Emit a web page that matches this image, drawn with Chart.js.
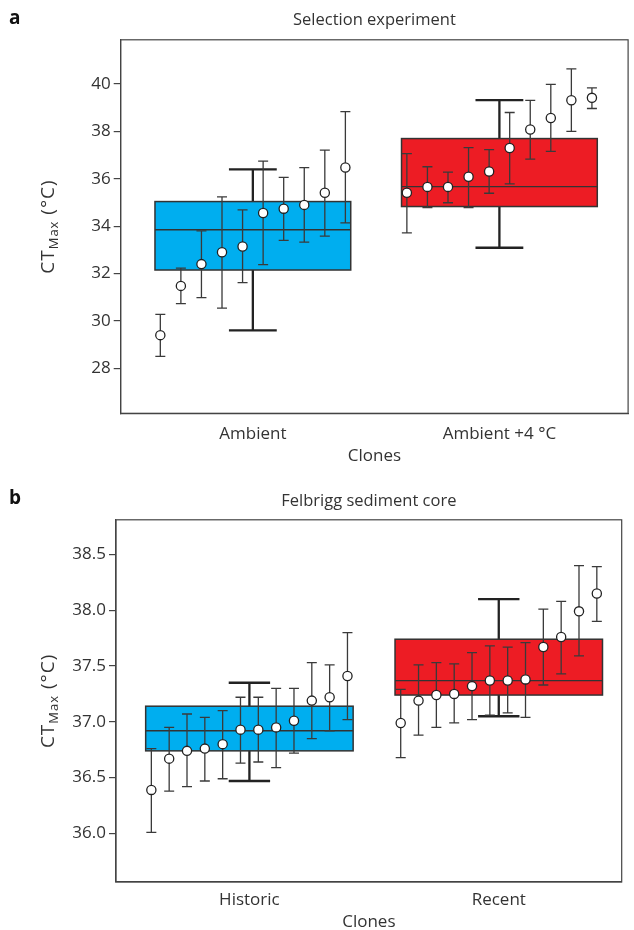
<!DOCTYPE html>
<html>
<head>
<meta charset="utf-8">
<script src="https://cdn.jsdelivr.net/npm/chart.js@4.4.0/dist/chart.umd.min.js"></script>
<style>
  html, body { margin: 0; padding: 0; background: #fff; overflow: hidden; }
  .panel { position: absolute; left: 0; width: 634px; }
  #wrapA { top: 0; height: 478px; }
  #wrapB { top: 478px; height: 470px; }
</style>
</head>
<body>
<div class="panel" id="wrapA"><canvas id="chartA" width="634" height="478"></canvas></div>
<div class="panel" id="wrapB"><canvas id="chartB" width="634" height="470"></canvas></div>
<script>
// Panel a - Selection experiment
const groupsA = ["Ambient", "Ambient +4 °C"];
const meanAmbient = [29.4, 31.48, 32.4, 32.9, 33.14, 34.56, 34.74, 34.9, 35.41, 36.48];
const lowAmbient = [28.5, 30.73, 30.98, 30.54, 31.62, 32.38, 33.4, 33.33, 33.58, 34.14];
const highAmbient = [30.28, 32.23, 33.8, 35.24, 34.69, 36.75, 36.06, 36.47, 37.21, 38.84];
const meanWarm = [35.41, 35.66, 35.66, 36.09, 36.31, 37.3, 38.08, 38.57, 39.32, 39.42];
const lowWarm = [33.72, 34.78, 34.99, 34.78, 35.39, 35.79, 36.83, 37.16, 38.0, 38.97];
const highWarm = [37.06, 36.51, 36.28, 37.32, 37.23, 38.8, 39.31, 39.99, 40.64, 39.84];
// box: whisker low, q1, median, q3, whisker high
const boxAmbient = [29.6, 32.15, 33.85, 35.04, 36.4];
const boxWarm = [33.09, 34.83, 35.67, 37.7, 39.32];
const ticksA = [28, 30, 32, 34, 36, 38, 40];

// Panel b - Felbrigg sediment core
const groupsB = ["Historic", "Recent"];
const meanHistoric = [36.39, 36.67, 36.74, 36.76, 36.8, 36.93, 36.93, 36.95, 37.01, 37.19, 37.22, 37.41];
const lowHistoric = [36.01, 36.38, 36.42, 36.47, 36.49, 36.63, 36.64, 36.59, 36.72, 36.85, 36.92, 37.02];
const highHistoric = [36.76, 36.95, 37.07, 37.04, 37.1, 37.22, 37.22, 37.3, 37.3, 37.53, 37.51, 37.8];
const meanRecent = [36.99, 37.19, 37.24, 37.25, 37.32, 37.37, 37.37, 37.38, 37.67, 37.76, 37.99, 38.15];
const lowRecent = [36.68, 36.88, 36.95, 36.99, 37.02, 37.06, 37.08, 37.04, 37.33, 37.43, 37.59, 37.9];
const highRecent = [37.29, 37.51, 37.53, 37.52, 37.62, 37.68, 37.67, 37.71, 38.01, 38.08, 38.4, 38.39];
const boxHistoric = [36.47, 36.74, 36.92, 37.14, 37.35];
const boxRecent = [37.05, 37.24, 37.37, 37.74, 38.1];
const ticksB = [36.0, 36.5, 37.0, 37.5, 38.0, 38.5];

const FONT = "'Open Sans', 'DejaVu Sans', sans-serif";
const TEXT = "#333";
const LINE = "#444";
const BLUE = "#00aeef";
const RED = "#ed1c24";

// x position of clone i inside group g
function cloneX(g, i, n, spacing) {
  return g + (i - (n - 1) / 2) * spacing;
}

// boxes, whiskers, error bars and the frame
const boxPlugin = {
  id: "boxes",
  beforeDatasetsDraw(chart) {
    const o = chart.options.plugins.boxes;
    const { ctx, chartArea } = chart;
    const x = chart.scales.x;
    const y = chart.scales.y;
    ctx.save();
    o.series.forEach((s, g) => {
      const [wLo, q1, med, q3, wHi] = s.box;
      const left = x.getPixelForValue(g - o.boxHalf);
      const right = x.getPixelForValue(g + o.boxHalf);
      const cx = x.getPixelForValue(g);
      const capL = x.getPixelForValue(g - o.capHalf);
      const capR = x.getPixelForValue(g + o.capHalf);

      // whiskers
      ctx.strokeStyle = "#222";
      ctx.lineWidth = 2.3;
      ctx.beginPath();
      ctx.moveTo(cx, y.getPixelForValue(wHi));
      ctx.lineTo(cx, y.getPixelForValue(wLo));
      ctx.moveTo(capL, y.getPixelForValue(wHi));
      ctx.lineTo(capR, y.getPixelForValue(wHi));
      ctx.moveTo(capL, y.getPixelForValue(wLo));
      ctx.lineTo(capR, y.getPixelForValue(wLo));
      ctx.stroke();

      // box
      const top = y.getPixelForValue(q3);
      const bottom = y.getPixelForValue(q1);
      ctx.fillStyle = s.color;
      ctx.fillRect(left, top, right - left, bottom - top);
      ctx.strokeStyle = "#333";
      ctx.lineWidth = 1.5;
      ctx.strokeRect(left, top, right - left, bottom - top);
      ctx.lineWidth = 1.3;
      ctx.beginPath();
      ctx.moveTo(left, y.getPixelForValue(med));
      ctx.lineTo(right, y.getPixelForValue(med));
      ctx.stroke();

      // error bars of the clones
      ctx.strokeStyle = "#3a3a3a";
      ctx.lineWidth = 1.3;
      const n = s.mean.length;
      for (let i = 0; i < n; i++) {
        const px = x.getPixelForValue(cloneX(g, i, n, o.spacing));
        const yLo = y.getPixelForValue(s.low[i]);
        const yHi = y.getPixelForValue(s.high[i]);
        ctx.beginPath();
        ctx.moveTo(px, yLo);
        ctx.lineTo(px, yHi);
        ctx.moveTo(px - 5, yLo);
        ctx.lineTo(px + 5, yLo);
        ctx.moveTo(px - 5, yHi);
        ctx.lineTo(px + 5, yHi);
        ctx.stroke();
      }
    });

    // frame
    ctx.strokeStyle = LINE;
    ctx.lineWidth = 1.2;
    ctx.strokeRect(chartArea.left, chartArea.top, chartArea.right - chartArea.left, chartArea.bottom - chartArea.top);
    ctx.restore();
  },
  afterDraw(chart) {
    const o = chart.options.plugins.boxes;
    const { ctx, chartArea } = chart;
    ctx.save();
    // panel letter
    ctx.font = "bold 19px " + FONT;
    ctx.textBaseline = "alphabetic";
    ctx.textAlign = "left";
    ctx.fillStyle = "#111";
    ctx.fillText(o.letter, 9, o.letterY);
    // y axis title with subscript
    ctx.fillStyle = TEXT;
    ctx.letterSpacing = "1px";
    const cy = (chartArea.top + chartArea.bottom) / 2;
    ctx.translate(47, cy);
    ctx.rotate(-Math.PI / 2);
    const big = "19px " + FONT;
    const small = "13px " + FONT;
    ctx.font = big;
    const w1 = ctx.measureText("CT").width;
    const w3 = ctx.measureText(" (°C)").width;
    ctx.font = small;
    const w2 = ctx.measureText("Max").width;
    let sx = -(w1 + w2 + w3) / 2;
    ctx.font = big;
    ctx.fillText("CT", sx, 7);
    sx += w1;
    ctx.font = small;
    ctx.fillText("Max", sx, 11);
    sx += w2;
    ctx.font = big;
    ctx.fillText(" (°C)", sx, 7);
    ctx.restore();
  }
};

function makePanel(id, p) {
  const datasets = p.series.map((s, g) => ({
    data: s.mean.map((v, i) => ({ x: cloneX(g, i, s.mean.length, p.spacing), y: v })),
    pointRadius: 4.6,
    pointBackgroundColor: "#fff",
    pointBorderColor: "#222",
    pointBorderWidth: 1.3,
    showLine: false
  }));

  new Chart(document.getElementById(id), {
    type: "scatter",
    data: { datasets },
    options: {
      responsive: false,
      animation: false,
      layout: { padding: { left: 0, right: p.padRight, top: 0, bottom: 0 } },
      plugins: {
        legend: { display: false },
        tooltip: { enabled: false },
        title: {
          display: true,
          text: p.title,
          fullSize: false,
          color: TEXT,
          font: { family: FONT, size: 16.5, weight: "normal" },
          padding: p.titlePad
        },
        boxes: {
          series: p.series,
          spacing: p.spacing,
          boxHalf: p.boxHalf,
          capHalf: p.capHalf,
          letter: p.letter,
          letterY: p.letterY
        }
      },
      scales: {
        x: {
          type: "linear",
          min: p.xMin,
          max: p.xMax,
          grid: { display: false },
          border: { display: true, color: LINE, width: 1.2 },
          afterBuildTicks: (axis) => { axis.ticks = p.groups.map((_, i) => ({ value: i })); },
          afterFit: (axis) => { axis.height = p.xAxisHeight; },
          ticks: {
            autoSkip: false,
            maxRotation: 0,
            padding: p.tickPad,
            color: TEXT,
            font: { family: FONT, size: 17 },
            callback: (v, i) => p.groups[i]
          },
          title: {
            display: true,
            text: "Clones",
            color: TEXT,
            font: { family: FONT, size: 17 },
            padding: { top: 0, bottom: p.clonesPad }
          }
        },
        y: {
          min: p.yMin,
          max: p.yMax,
          grid: { display: true, drawOnChartArea: false, drawTicks: true, tickLength: 7, color: LINE, lineWidth: 1.2 },
          border: { display: true, color: LINE, width: 1.2 },
          afterBuildTicks: (axis) => { axis.ticks = p.ticks.map((v) => ({ value: v })); },
          afterFit: (axis) => { axis.width = p.yAxisWidth; },
          ticks: {
            padding: 3,
            color: TEXT,
            font: { family: FONT, size: 17 },
            callback: (v) => v.toFixed(p.decimals)
          }
        }
      }
    },
    plugins: [boxPlugin]
  });
}

makePanel("chartA", {
  letter: "a",
  letterY: 24,
  title: "Selection experiment",
  groups: groupsA,
  series: [
    { mean: meanAmbient, low: lowAmbient, high: highAmbient, box: boxAmbient, color: BLUE },
    { mean: meanWarm, low: lowWarm, high: highWarm, box: boxWarm, color: RED }
  ],
  ticks: ticksA,
  decimals: 0,
  yMin: 26.1,
  yMax: 41.87,
  xMin: -0.536,
  xMax: 1.522,
  spacing: 0.0834,
  boxHalf: 0.397,
  capHalf: 0.097,
  yAxisWidth: 120.7,
  xAxisHeight: 64.7,
  padRight: 3,
  titlePad: { top: 10, bottom: 10 },
  tickPad: 3,
  clonesPad: 12
});

makePanel("chartB", {
  letter: "b",
  letterY: 26,
  title: "Felbrigg sediment core",
  groups: groupsB,
  series: [
    { mean: meanHistoric, low: lowHistoric, high: highHistoric, box: boxHistoric, color: BLUE },
    { mean: meanRecent, low: lowRecent, high: highRecent, box: boxRecent, color: RED }
  ],
  ticks: ticksB,
  decimals: 1,
  yMin: 35.565,
  yMax: 38.81,
  xMin: -0.535,
  xMax: 1.493,
  spacing: 0.0715,
  boxHalf: 0.416,
  capHalf: 0.083,
  yAxisWidth: 116,
  xAxisHeight: 66,
  padRight: 12.3,
  titlePad: { top: 13, bottom: 9 },
  tickPad: 0,
  clonesPad: 16
});
</script>
</body>
</html>
